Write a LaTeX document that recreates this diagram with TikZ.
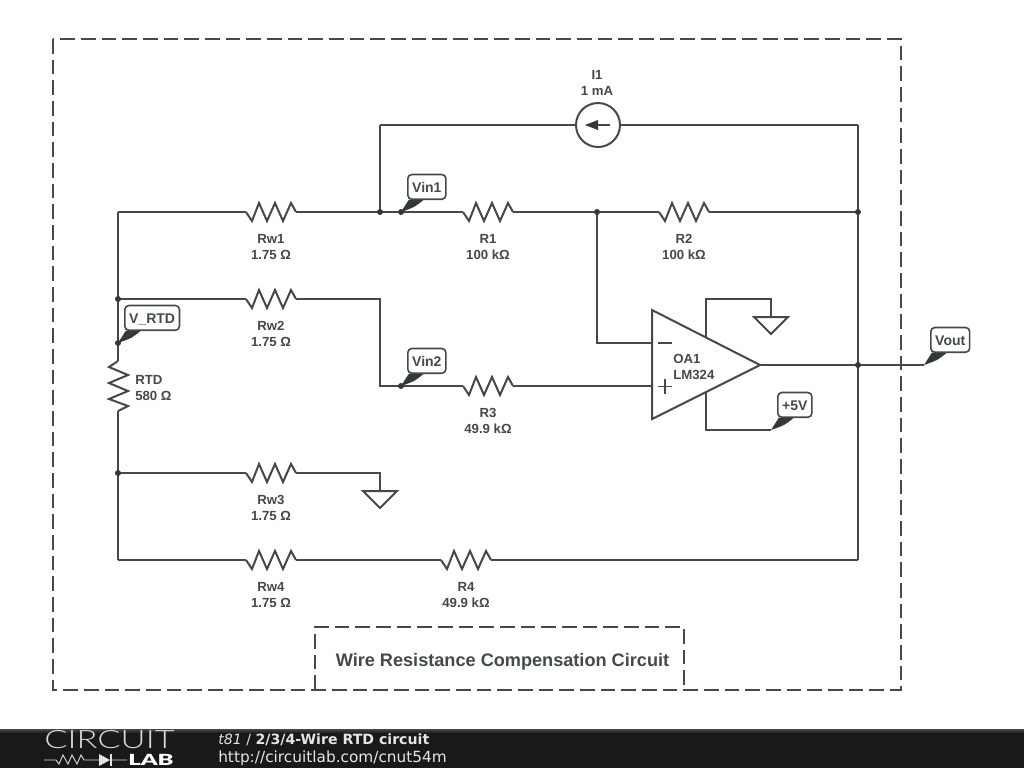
\documentclass[tikz,border=0pt]{standalone}
\usepackage{fontspec}
\setmainfont{Liberation Sans}
\newfontfamily\footfont{DejaVu Sans}
\newfontfamily\logofont{Lato Light}
\newfontfamily\logobold{Lato Black}
\definecolor{ink}{HTML}{444A4A}
\definecolor{inkdark}{HTML}{333838}
\tikzset{
  wire/.style={draw=ink,line width=1.5pt,line join=miter},
  frameline/.style={draw=ink,line width=1.4pt,dash pattern=on 11pt off 4.5pt},
  dotmark/.style={circle,fill=inkdark,draw=none,inner sep=0pt,minimum size=4.5pt},
  lbl/.style={font=\fontsize{9.9}{12.6}\selectfont\bfseries,text=ink,align=center,inner sep=0pt},
  tagbox/.style={draw=ink,line width=1.2pt,fill=white,rounded corners=3pt,anchor=south west,
    font=\fontsize{10.5}{12}\selectfont\bfseries,text=ink,minimum height=18.5pt,inner xsep=3.3pt,inner ysep=0pt,
    text height=9pt,text depth=0pt},
  tagtail/.style={fill=inkdark,draw=none},
}
\usetikzlibrary{calc}
\newcommand{\resH}[2]{%
  \coordinate (#1-l) at ($#2+(-25,0)$);
  \coordinate (#1-r) at ($#2+(25,0)$);
  \draw[wire,shift={#2}] (-25,0) -- (-19,9) -- (-12,-9) -- (-4,9) -- (4,-9) -- (12,9) -- (20,-9) -- (25,0);
}
\newcommand{\resV}[2]{%
  \coordinate (#1-t) at ($#2+(0,-25)$);
  \coordinate (#1-b) at ($#2+(0,25)$);
  \draw[wire,shift={#2}] (0,-25) -- (-9,-19) -- (10,-11) -- (-9,-3) -- (10,5) -- (-9,13) -- (10,20) -- (0,25);
}
\newcommand{\tagat}[3]{%
  \draw[tagtail] #2 -- ($#2+(8,-12.5)$) -- ($#2+(23,-12.5)$) .. controls ($#2+(14,-5)$) .. cycle;
  \node[tagbox] (#1) at ($#2+(6,-12)$) {#3};
}
\newcommand{\gnd}[1]{%
  \draw[wire,fill=white,shift={#1}] (-17,0) -- (17,0) -- (0,17) -- cycle;
}
\begin{document}
\begin{tikzpicture}[x=0.75pt,y=-0.75pt]
\useasboundingbox (0,0) rectangle (1024,768);
\fill[white] (0,0) rectangle (1024,768);
% frames
\draw[frameline] (53,39) rectangle (901,690);
\draw[frameline] (315,690) -- (315,627) -- (684,627) -- (684,690);
\node[lbl,font=\fontsize{13.6}{15}\selectfont\bfseries] (title) at (502.5,661.5) {Wire Resistance Compensation Circuit};
% coordinates
\coordinate (jA) at (380,212);
\coordinate (jB) at (597,212);
\coordinate (jC) at (858,212);
\coordinate (jD) at (118,299);
\coordinate (jE) at (118,343);
\coordinate (jF) at (118,473);
\coordinate (jG) at (858,365);
\coordinate (jV1) at (401,212);
\coordinate (jV2) at (401,386);
\coordinate (cTL) at (118,212);
\coordinate (cBL) at (118,560);
\coordinate (cBR) at (858,560);
\coordinate (cTR) at (858,125);
\coordinate (cI) at (380,125);
\coordinate (cW2) at (380,299);
\coordinate (cW2b) at (380,386);
\coordinate (cW3) at (380,473);
\coordinate (g1) at (380,491);
\coordinate (g2) at (771,317);
\coordinate (cNeg) at (597,343);
\coordinate (oaNeg) at (652,343);
\coordinate (oaPos) at (652,386);
\coordinate (oaOut) at (760,365);
\coordinate (oaT) at (706,337);
\coordinate (oaTt) at (706,299);
\coordinate (oaTr) at (771,299);
\coordinate (oaB) at (706,392);
\coordinate (oaBb) at (706,430);
\coordinate (tagP) at (771,430);
\coordinate (tagO) at (924,365);
% resistors
\resH{Rwa}{(271,212)}
\resH{Ra}{(488,212)}
\resH{Rb}{(684,212)}
\resH{Rwb}{(271,299)}
\resH{Rc}{(488,386)}
\resH{Rwc}{(271,473)}
\resH{Rwd}{(271,560)}
\resH{Rd}{(466,560)}
\resV{Rt}{(118,386)}
% current source
\node[circle,draw=ink,line width=1.5pt,minimum size=33pt,inner sep=0pt] (I1) at (598,125) {};
\draw[wire] (cI) -- (I1.west);
\draw[wire] (I1.east) -- (cTR);
\draw[wire] (610,125) -- (594,125);
\fill[inkdark] (585,125) -- (598,120) -- (598,130) -- cycle;
% wiring
\draw[wire] (cTL) -- (Rwa-l);
\draw[wire] (Rwa-r) -- (Ra-l);
\draw[wire] (Ra-r) -- (Rb-l);
\draw[wire] (Rb-r) -- (jC);
\draw[wire] (cI) -- (jA);
\draw[wire] (cTR) -- (cBR);
\draw[wire] (cBR) -- (Rd-r);
\draw[wire] (Rd-l) -- (Rwd-r);
\draw[wire] (Rwd-l) -- (cBL);
\draw[wire] (cBL) -- (Rt-b);
\draw[wire] (Rt-t) -- (cTL);
\draw[wire] (jD) -- (Rwb-l);
\draw[wire] (Rwb-r) -- (cW2) -- (cW2b) -- (Rc-l);
\draw[wire] (Rc-r) -- (oaPos);
\draw[wire] (jF) -- (Rwc-l);
\draw[wire] (Rwc-r) -- (cW3) -- (g1);
\draw[wire] (jB) -- (cNeg) -- (oaNeg);
\draw[wire] (oaT) -- (oaTt) -- (oaTr) -- (g2);
\draw[wire] (oaB) -- (oaBb) -- (tagP);
\draw[wire] (oaOut) -- (tagO);
\gnd{(g1)}
\gnd{(g2)}
% op amp
\draw[wire,fill=white] (652,310) -- (760,365) -- (652,419) -- cycle;
\draw[draw=ink,line width=1.2pt] (658,343) -- (672,343) (658,386.5) -- (672,386.5) (665,379) -- (665,394);
\node[lbl,align=left,anchor=west] (OA) at (673,367) {OA1\\LM324};
% dots
\foreach \p in {jA,jB,jC,jD,jE,jF,jG,jV1,jV2}
  \node[dotmark] at (\p) {};
% tags
\tagat{tVin1}{(jV1)}{Vin1}
\tagat{tVin2}{(jV2)}{Vin2}
\tagat{tVrtd}{(jE)}{V\_RTD}
\tagat{tFive}{(tagP)}{+5V}
\tagat{tVout}{(tagO)}{Vout}
% labels
\node[lbl] (lI1) at (597,83) {I1\\1 mA};
\node[lbl] (lRw1) at (271,247) {Rw1\\1.75 Ω};
\node[lbl] (lR1) at (488,247) {R1\\100 kΩ};
\node[lbl] (lR2) at (684,247) {R2\\100 kΩ};
\node[lbl] (lRw2) at (271,334) {Rw2\\1.75 Ω};
\node[lbl] (lR3) at (488,421) {R3\\49.9 kΩ};
\node[lbl] (lRw3) at (271,508) {Rw3\\1.75 Ω};
\node[lbl] (lRw4) at (271,595) {Rw4\\1.75 Ω};
\node[lbl] (lR4) at (466,595) {R4\\49.9 kΩ};
\node[lbl,align=left,anchor=west] (lRTD) at (135,388) {RTD\\580 Ω};
% footer
\shade[top color=black!72,bottom color=black!90] (0,729) rectangle (1024,733);
\fill[black!90] (0,733) rectangle (1024,768);
\node[anchor=west,inner sep=0pt,text=white!90!black,font=\footfont\fontsize{10.6}{12}\selectfont] (ft) at (218,740)
  {\textit{t81} / \textbf{2/3/4-Wire RTD circuit}};
\node[anchor=west,inner sep=0pt,text=white!90!black,font=\footfont\fontsize{11.5}{12}\selectfont] (fu) at (218,758.5)
  {http://circuitlab.com/cnut54m};
\node[anchor=west,inner sep=0pt,text=white!85!black,font=\logofont\fontsize{19}{20}\selectfont,xscale=1.36,transform shape,text height=10pt,text depth=0pt] (lc) at (44,742) {CIRCUIT};
\node[anchor=east,inner sep=0pt,text=white,font=\logobold\fontsize{11.5}{12}\selectfont,xscale=1.55,transform shape,text height=6.5pt,text depth=0pt] (ll) at (174,761) {LAB};
\draw[white!85!black,line width=0.7pt] (44,760) -- (56,760) -- (59,764) -- (63,755) -- (68,764) -- (72,755) -- (77,764) -- (81,755) -- (84,760) -- (99,760) (111,760) -- (127,760);
\fill[white!90!black] (99,754) -- (110,760) -- (99,766) -- cycle;
\fill[white!90!black] (110,754) rectangle (112,766);
\end{tikzpicture}
\end{document}
